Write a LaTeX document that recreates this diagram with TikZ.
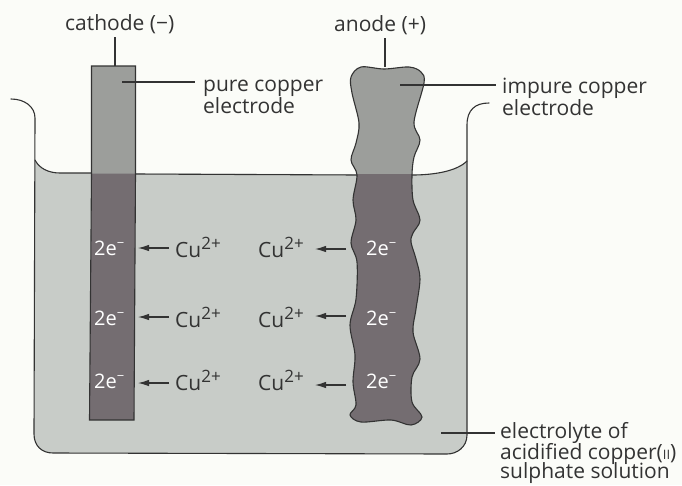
\documentclass[tikz,border=0pt]{standalone}
\usepackage{fontspec}
\setmainfont{Open Sans}
\usetikzlibrary{arrows.meta}
\definecolor{paper}{HTML}{FBFCF8}
\definecolor{water}{HTML}{C8CCC8}
\definecolor{upperel}{HTML}{9C9E9B}
\definecolor{lowerel}{HTML}{746D71}
\definecolor{ink}{HTML}{333333}
\newcommand{\anodepath}{plot[smooth cycle,tension=0.55] coordinates {(384,69)(361,67)(351,77)(352,93)(359,123)(356,143)(351,160)(357,175)(353,200)(356,220)(351,243)(357,262)(356,299)(350,325)(355,355)(353,382)(356,405)(350,415)(361,422)(391,420)(411,425)(422,417)(412,402)(412,377)(420,359)(413,332)(416,309)(420,279)(416,259)(411,242)(413,233)(420,220)(413,200)(412,175)(414,157)(420,140)(414,122)(424,83)(421,72)(409,67)}}
\tikzset{
  x=1pt,y=-1pt,
  lab/.style={font=\fontsize{21}{24}\selectfont,text=ink,anchor=base west,inner sep=0pt},
  elec/.style={font=\fontsize{20}{24}\selectfont,text=white,anchor=base west,inner sep=0pt},
  leader/.style={draw=ink,line width=1.1pt},
  react/.style={draw=ink,line width=1.1pt,-{Latex[length=11pt,width=6.5pt]}},
  wall/.style={draw=ink,line width=1.1pt,line cap=round}
}
\newcommand{\cuion}{Cu\raisebox{7.5pt}{\fontsize{17}{19}\selectfont 2+}}
\newcommand{\etwo}{2e\raisebox{8pt}{\fontsize{13}{14}\selectfont −}}
\begin{document}
\begin{tikzpicture}
\useasboundingbox (0,0) rectangle (682,485);
\fill[paper] (0,0) rectangle (682,485);
% electrolyte
\fill[water] (35,160) .. controls (39,168) and (48,173) .. (60,173) -- (412,174.5) .. controls (435,175) and (457,171) .. (467,161) -- (467,435) .. controls (467,447) and (457,454) .. (447,454) -- (53,453) .. controls (42,453) and (34,446) .. (34,434) -- cycle;
% tank outline
\draw[wall] (11,99) .. controls (25,99) and (35,107) .. (35,118) -- (34,434) .. controls (34,446) and (42,453) .. (53,453) -- (447,454) .. controls (457,454) and (467,447) .. (467,435) -- (467,125) .. controls (467,110) and (475,103) .. (489,103);
\draw[wall] (35,160) .. controls (39,168) and (48,173) .. (60,173) -- (91,173);
\draw[wall] (135,174) -- (358,175);
\draw[wall] (412,175) .. controls (435,175) and (457,171) .. (467,161);
% cathode
\fill[upperel] (91.5,66) rectangle (135.5,173.5);
\fill[lowerel] (91.5,173.5) -- (135.5,173.5) -- (134,420) -- (89.5,420) -- cycle;
\draw[draw=ink,line width=1.1pt] (91.5,173.5) -- (91.5,66) -- (135.5,66) -- (135.5,173.5) -- (134,420) -- (89.5,420) -- cycle;
\coordinate (cathodetop) at (115,66);
\coordinate (cathodein) at (122,82);
% anode
\begin{scope}
\clip (300,0) rectangle (460,174.5);
\fill[upperel] \anodepath;
\end{scope}
\begin{scope}
\clip (300,174.5) rectangle (460,485);
\fill[lowerel] \anodepath;
\end{scope}
\draw[ink,line width=1.1pt] \anodepath;
\coordinate (anodetop) at (385,67);
\coordinate (anodein) at (400,85);
\coordinate (waterin) at (441,433);
\coordinate (cathodeup) at (115,37);
\coordinate (anodeup) at (385,38);
\coordinate (pureend) at (195,82);
\coordinate (impend) at (496,85);
\coordinate (elyend) at (495,433);
% labels
\node[lab] (cath) at (65,30) {cathode (−)};
\node[lab] (ano) at (334,31) {anode (+)};
\node[lab] (pure) at (203,91) {pure copper};
\node[lab] (pure2) at (203,113) {electrode};
\node[lab] (imp) at (502,93) {impure copper};
\node[lab] (imp2) at (502,115) {electrode};
\node[lab] (ely) at (500,438) {electrolyte of};
\node[lab] (ely2) at (500,459) {acidified copper({\fontsize{13}{14}\selectfont II})};
\node[lab] (ely3) at (500,478.5) {sulphate solution};
\draw[leader] (cathodeup) -- (cathodetop);
\draw[leader] (anodeup) -- (anodetop);
\draw[leader] (cathodein) -- (pureend);
\draw[leader] (anodein) -- (impend);
\draw[leader] (waterin) -- (elyend);
% ions row by row
\foreach \r/\y/\ya/\yb in {1/255/248/249,2/325/317/316,3/388/383/385}{
  \node[elec] (ca\r) at (94,\y) {\etwo};
  \node[elec] (an\r) at (366,\y) {\etwo};
  \node[lab] (cu\r) at (175,\y+2) {\cuion};
  \node[lab] (cv\r) at (258,\y+2) {\cuion};
  \coordinate (p\r) at (138,\ya);
  \coordinate (q\r) at (169,\ya);
  \coordinate (s\r) at (315,\yb);
  \coordinate (t\r) at (346,\yb);
  \draw[react] (q\r) -- (p\r);
  \draw[react] (t\r) -- (s\r);
}
\end{tikzpicture}
\end{document}
